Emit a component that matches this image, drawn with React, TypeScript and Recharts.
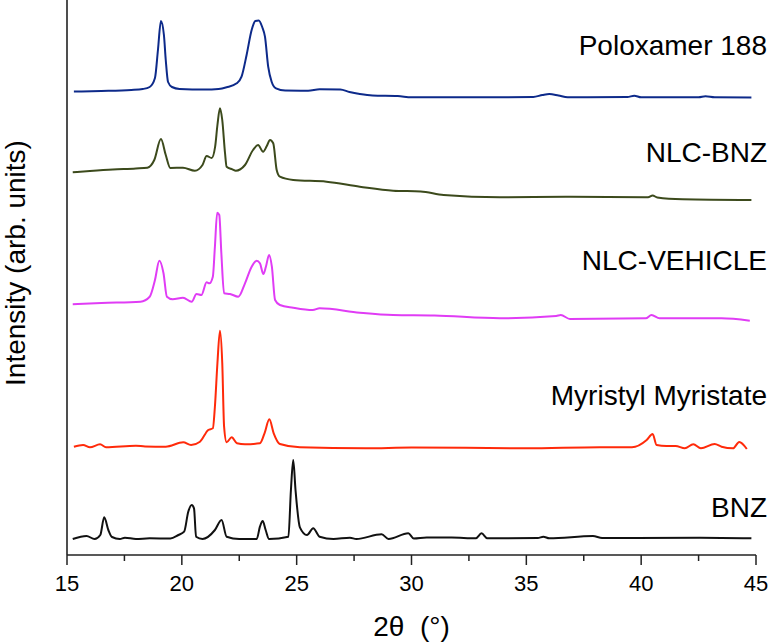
import { Label, Line, LineChart, XAxis, YAxis } from 'recharts'

// [2θ (deg), intensity (arb. units)]
const poloxamer188: [number, number][] = [
  [15.3, 463.5], [16.5, 464], [17.8, 465], [18.3, 466], [18.6, 468], [18.83, 477], [18.96, 505],
  [19.09, 534], [19.22, 520], [19.3, 495], [19.4, 473], [19.57, 468], [19.9, 466], [21.0, 465.5],
  [21.6, 466], [21.95, 467.7], [22.39, 471.7], [22.6, 478.3], [22.82, 500], [23.04, 525], [23.2, 534],
  [23.35, 534.5], [23.5, 528], [23.62, 518.3], [23.76, 488.3], [23.91, 473.3], [24.1, 466.7],
  [24.5, 464.5], [25.5, 464.3], [26.0, 465.7], [26.9, 465.5], [27.3, 463], [27.75, 461], [28.3, 459.5],
  [29.4, 459], [30, 457.7], [33, 457.7], [35.3, 458], [35.7, 460], [36.0, 461], [36.4, 459.5],
  [36.8, 457.7], [39.4, 458], [39.7, 459.3], [40.0, 457.7], [42.5, 457.7], [42.8, 458.7], [43.2, 457.7],
  [44.8, 457.5],
]

const nlcBnz: [number, number][] = [
  [15.25, 382.7], [16, 384], [17, 385.5], [18.0, 386.5], [18.5, 387.3], [18.8, 395], [19.09, 416],
  [19.3, 400], [19.5, 387], [20.05, 387.3], [20.57, 384.3], [20.9, 390], [21.08, 399], [21.3, 397],
  [21.45, 408.3], [21.55, 430], [21.66, 446.7], [21.76, 435], [21.88, 402], [21.95, 388.3], [22.2, 385.7],
  [22.35, 384.3], [22.75, 390], [23.1, 405], [23.32, 410], [23.54, 403.3], [23.7, 409], [23.84, 415],
  [23.98, 411.7], [24.13, 385], [24.27, 378.3], [24.85, 375], [26.3, 373.3], [27.75, 368.3], [29.2, 364.3],
  [30.4, 363.5], [31.4, 360], [33.85, 357.7], [36.8, 358.3], [40.3, 357.7], [40.5, 359.5], [40.7, 357.5],
  [41.8, 355.7], [44.8, 355],
]

const nlcVehicle: [number, number][] = [
  [15.25, 250.7], [16.5, 252], [18.2, 253.3], [18.6, 258.3], [18.83, 275], [19.02, 294.3], [19.2, 282],
  [19.35, 258.3], [19.6, 255.7], [20.05, 257.3], [20.43, 253.3], [20.64, 261], [20.85, 260], [21.08, 272.7],
  [21.2, 271.7], [21.35, 278.3], [21.44, 308.3], [21.54, 342.3], [21.63, 340], [21.72, 302], [21.84, 261.7],
  [22.1, 261], [22.46, 258.3], [22.75, 271.7], [23.04, 288.3], [23.26, 294.3], [23.4, 291.7], [23.55, 281],
  [23.66, 288.3], [23.8, 300], [23.92, 288.3], [24.06, 255], [24.27, 250], [24.85, 247.3], [25.7, 245],
  [26.0, 246.7], [27.75, 242.3], [29.2, 240], [31, 239.5], [33.85, 236.7], [36.3, 239], [36.5, 240],
  [36.9, 236], [40.2, 236.7], [40.45, 240], [40.8, 236.7], [43.5, 236.7], [44.73, 234.3],
]

const myristylMyristate: [number, number][] = [
  [15.3, 108.3], [15.7, 110], [16.0, 107.7], [16.44, 110.7], [16.7, 107.7], [18.0, 109.3], [18.4, 108.5],
  [19.3, 108.3], [20.06, 112.7], [20.4, 110], [20.79, 113.3], [21.15, 125], [21.35, 126.7], [21.44, 148.3],
  [21.55, 192], [21.66, 224.3], [21.76, 192], [21.84, 128.3], [21.95, 112.7], [22.17, 117.7], [22.4, 111.7],
  [22.75, 110.7], [23.4, 111.7], [23.6, 121.7], [23.81, 135.7], [24.0, 121.7], [24.27, 111], [25.14, 107.7],
  [28, 106.7], [30, 107.5], [35, 106.7], [38.2, 107.7], [39.6, 107.7], [40.24, 115], [40.5, 121],
  [40.67, 110], [41.1, 109], [41.5, 109], [41.9, 106.7], [42.27, 110.7], [42.6, 106.7], [43.2, 111],
  [43.5, 108.3], [44.0, 106.7], [44.27, 113], [44.6, 106],
]

const bnz: [number, number][] = [
  [15.25, 16], [15.85, 19], [16.2, 16], [16.45, 20], [16.62, 37.7], [16.8, 25], [16.96, 18], [17.3, 16],
  [17.52, 17.3], [18.0, 16], [18.6, 16.7], [19.5, 16.5], [19.85, 20], [20.1, 23.3], [20.28, 43.3],
  [20.43, 50], [20.53, 46.7], [20.62, 18.3], [20.9, 16], [21.44, 25], [21.73, 35], [21.95, 18.3], [22.5, 16],
  [23.26, 16], [23.4, 28.3], [23.52, 34], [23.65, 25], [23.8, 16], [24.64, 18.3], [24.75, 65], [24.85, 95],
  [24.95, 65], [25.14, 27.7], [25.45, 20], [25.72, 26.7], [26.0, 18.3], [26.6, 16], [27.32, 17.3], [27.6, 16],
  [28.7, 20.7], [29.0, 16], [29.86, 21.7], [30.1, 16.5], [30.66, 17.5], [31.75, 17.5], [32.8, 16.7],
  [33.05, 21.7], [33.3, 16.7], [35.5, 17], [35.74, 18.3], [36.0, 16.7], [37.9, 19], [38.3, 17],
  [42.56, 17.3], [44.8, 16.7],
]

const xTicks = [15, 17.5, 20, 22.5, 25, 27.5, 30, 32.5, 35, 37.5, 40, 42.5, 45]

const series = [
  { name: 'Poloxamer 188', points: poloxamer188, color: '#0d2a8a', labelY: 55 },
  { name: 'NLC-BNZ', points: nlcBnz, color: '#3c4a1c', labelY: 162 },
  { name: 'NLC-VEHICLE', points: nlcVehicle, color: '#e03cf5', labelY: 270 },
  { name: 'Myristyl Myristate', points: myristylMyristate, color: '#ff2a0a', labelY: 405 },
  { name: 'BNZ', points: bnz, color: '#111111', labelY: 517 },
]

const font = '"Liberation Sans", Arial, sans-serif'

function XTick(props: any) {
  const { x, y, payload } = props
  const major = payload.value % 5 === 0
  return (
    <g>
      <line x1={x} x2={x} y1={y} y2={y + (major ? 10 : 6)} stroke="#222" strokeWidth={1.5} />
      {major && (
        <text x={x} y={y + 36} textAnchor="middle" fontSize={22} fontFamily={font} fill="#000">
          {payload.value}
        </text>
      )}
    </g>
  )
}

export default function App() {
  return (
    <div style={{ position: 'absolute', left: 0, top: 0, width: 770, height: 642, background: '#fff' }}>
      <LineChart width={770} height={642} margin={{ top: 0, right: 14, bottom: 0, left: 0 }}>
        <XAxis
          type="number"
          dataKey="x"
          domain={[15, 45]}
          ticks={xTicks}
          interval={0}
          height={87}
          tickSize={0}
          tickMargin={0}
          tickLine={false}
          tick={<XTick />}
          axisLine={{ stroke: '#222', strokeWidth: 1.6 }}
        >
          <Label value={'2θ\u00A0\u00A0(°)'} position="insideBottom" offset={6} fontSize={28} fontFamily={font} fill="#000" />
        </XAxis>
        <YAxis
          type="number"
          domain={[0, 555]}
          width={67}
          tick={false}
          tickLine={false}
          axisLine={{ stroke: '#222', strokeWidth: 1.6 }}
        >
          <Label
            content={() => (
              <text x={25} y={263} transform="rotate(-90 25 263)" textAnchor="middle" fontSize={28} fontFamily={font} fill="#000">
                Intensity (arb. units)
              </text>
            )}
          />
        </YAxis>
        {series.map((s) => (
          <Line
            key={s.name}
            data={s.points.map(([x, y]) => ({ x, y }))}
            dataKey="y"
            type="monotone"
            stroke={s.color}
            strokeWidth={2}
            dot={false}
            isAnimationActive={false}
          />
        ))}
      </LineChart>
      <svg width={770} height={642} style={{ position: 'absolute', left: 0, top: 0, pointerEvents: 'none' }}>
        {series.map((s) => (
          <text key={s.name} x={767} y={s.labelY} textAnchor="end" fontSize={28} fontFamily={font} fill="#000">
            {s.name}
          </text>
        ))}
      </svg>
    </div>
  )
}
